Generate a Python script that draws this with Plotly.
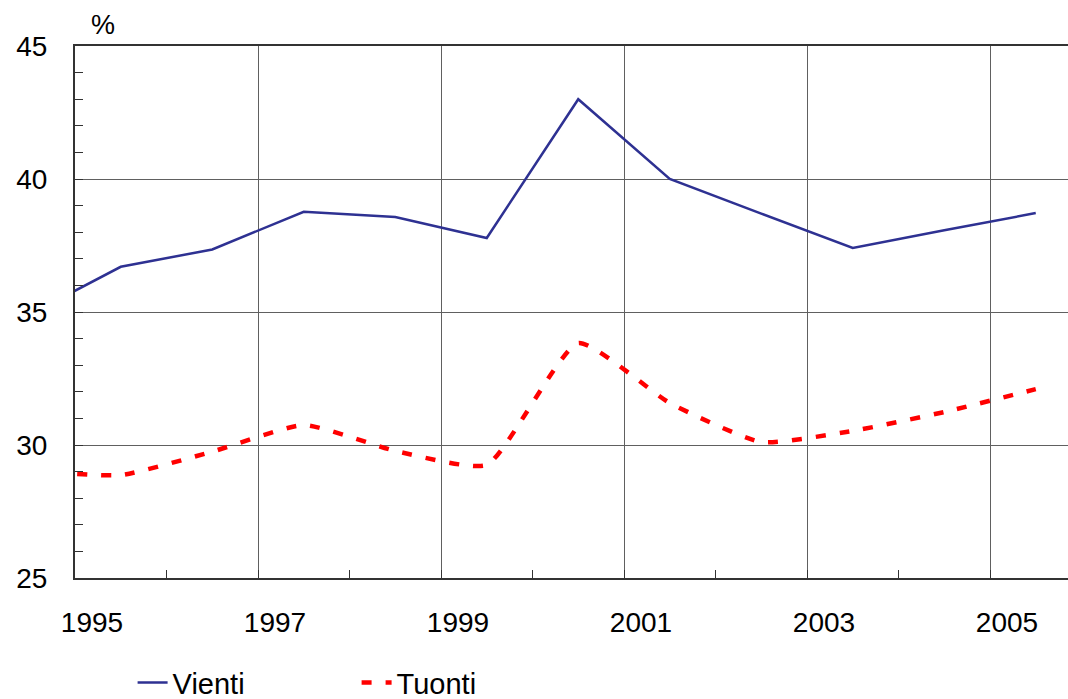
import plotly.graph_objects as go

# Data (points plotted at mid-year positions)
years = [1994.5, 1995.5, 1996.5, 1997.5, 1998.5, 1999.5, 2000.5, 2001.5, 2002.5, 2003.5, 2004.5, 2005.5]
vienti = [34.9, 36.7, 37.35, 38.77, 38.57, 37.78, 43.0, 40.0, 38.7, 37.41, 38.07, 38.72]
tuonti = [29.04, 28.87, 29.75, 30.75, 29.78, 29.25, 33.83, 31.58, 30.11, 30.53, 31.24, 32.1]

tick_vals = [1995, 1997, 1999, 2001, 2003, 2005]
tick_text = ["1995", "1997", "1999", "2001", "2003", "2005"]

FONT = "Arial, Liberation Sans, sans-serif"

fig = go.Figure()
fig.add_trace(go.Scatter(
    x=years, y=vienti, name="Vienti", mode="lines",
    line=dict(color="#2E3192", width=2.5)
))
fig.add_trace(go.Scatter(
    x=years, y=tuonti, name="Tuonti", mode="lines",
    line=dict(color="#FF0000", width=4.5, dash="10px,14px", shape="spline", smoothing=0.5)
))

fig.update_layout(
    width=1068, height=699,
    margin=dict(l=75, r=0, t=46, b=121, autoexpand=False),
    paper_bgcolor="white", plot_bgcolor="white",
    font=dict(family=FONT, size=28, color="black"),
    showlegend=True,
    legend=dict(orientation="h", x=0.058, y=-0.149, xanchor="left", yanchor="top",
                font=dict(size=29), entrywidth=179, entrywidthmode="pixels",
                tracegroupgap=0, bgcolor="rgba(0,0,0,0)"),
    annotations=[dict(text="%", xref="paper", yref="paper", x=0.028, y=1.0,
                      xanchor="center", yanchor="bottom", yshift=4, showarrow=False,
                      font=dict(size=27, family=FONT))],
)

fig.update_xaxes(
    range=[1995, 1995 + 993 / 91.5], automargin=False,
    tickmode="array", tickvals=tick_vals, ticktext=tick_text,
    showgrid=True, gridcolor="#606060", gridwidth=1,
    showline=True, linecolor="#333333", linewidth=2, mirror=True,
    ticks="inside", ticklen=8, tickcolor="#333333",
    ticklabelshift=17, ticklabelstandoff=18,
    minor=dict(dtick=1, tick0=1995, ticks="inside", ticklen=8, tickcolor="#333333", showgrid=False),
    zeroline=False, fixedrange=True,
)
fig.update_yaxes(
    range=[25, 45], dtick=5, tick0=25, automargin=False,
    showgrid=True, gridcolor="#606060", gridwidth=1,
    showline=True, linecolor="#333333", linewidth=2, mirror=False,
    ticks="inside", ticklen=8, tickcolor="#333333",
    ticklabelstandoff=20,
    minor=dict(dtick=1, ticks="inside", ticklen=8, tickcolor="#333333", showgrid=False),
    zeroline=False, fixedrange=True,
)

fig.write_html(
    "out.html",
    config={"displayModeBar": False},
    post_script="document.body.style.margin='0';document.body.style.overflow='hidden';",
)
